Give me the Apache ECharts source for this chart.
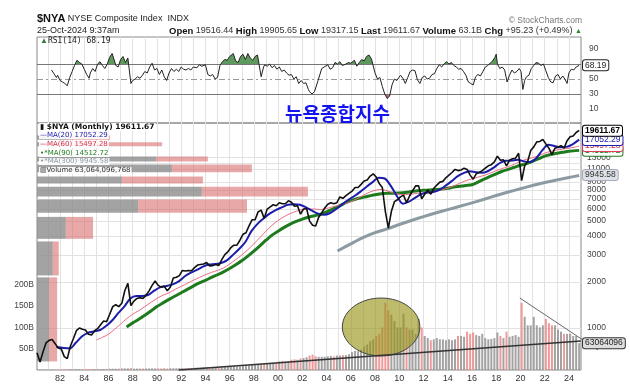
<!DOCTYPE html>
<html><head><meta charset="utf-8">
<script src="https://cdn.jsdelivr.net/npm/echarts@6/dist/echarts.min.js"></script>
<style>html,body{margin:0;padding:0;background:#fff}#c{width:630px;height:387px}</style>
</head><body><div id="c"></div>
<script>
// ---------- DATA ----------
const priceStart = 1980.1, priceStep = 0.25;   // quarterly samples, decimal years
const priceClose = [
 690,600,700,800, 830,840,790,740, 730,650,630,760, 850,960,1000,980, 970,910,900,960,
 990,1050,1110,1100, 1230,1380,1420,1380, 1450,1760,1960,1400, 1500,1560,1580,1560, 1640,1750,1900,2030,
 1900,1850,1880,1750, 1850,2120,2150,2200, 2380,2360,2380,2370, 2480,2580,2600,2620, 2680,2550,2560,2600,
 2560,2800,3020,3150, 3350,3480,3480,3750, 4100,4200,4650,5100, 5100,5750,5900,5200, 6000,6200,6400,6300,
 6600,6500,6500,6800, 6650,6250,6300,5550, 6000,6050,5000,4700, 4650,5300,5650,6100, 6450,6600,6500,6600,
 7200,7050,7350,7600, 7850,8300,8300,8700, 9150,9300,9850,10200, 9700,8800,8300,5800, 4500,5800,6700,6900,
 7200,7400,6600,7300, 7900,8500,8500,7000, 7500,8000,7500,8200, 8600,9000,9100,9600, 10000,10400,10900,10700,
 10800,11100,10900,10000, 9400,10200,10400,10700, 11100,11500,11700,12200, 13300,12500,12600,11500, 12500,12800,12900,13900,
 9200,11500,12300,14500, 15300,16500,16600,17100, 16000,15000,13600,15000, 15200,15600,15000,16800, 17800,18000,19000,19611.67
];
const volumeB = [
 1.0,1.1,1.1,1.3, 1.2,1.2,1.1,1.2, 1.2,1.3,1.6,2.0, 2.0,2.2,2.0,2.0, 2.0,2.0,2.2,2.0,
 2.2,2.2,2.3,2.6, 3.0,3.0,3.0,3.2, 3.8,3.8,3.8,4.5, 3.3,3.4,3.2,3.4, 3.5,3.6,3.9,3.8,
 3.8,3.7,3.8,3.5, 4.2,4.0,4.1,4.5, 4.8,4.6,4.5,4.8, 5.5,5.6,5.5,6.0, 6.0,6.0,6.0,6.0,
 6.5,6.8,7.0,7.2, 8.0,8.5,8.0,8.5, 10,10.5,11,12, 13,13,14,15, 16,16,17,17,
 20,21,20,21, 24,25,24,27, 28,30,34,36, 32,31,31,31, 32,33,32,34,
 34,35,35,37, 42,45,44,48, 55,60,68,72, 80,85,100,158, 140,130,115,100,
 100,132,100,95, 95,85,120,100, 80,75,70,72, 75,72,72,70, 72,70,72,80,
 80,78,90,85, 88,82,80,85, 75,72,73,75, 88,80,75,90, 78,80,82,78,
 158,125,105,105, 125,105,100,105, 120,110,105,105, 95,90,85,85, 85,80,80,63.06
];
const rsiPoints = [
 [1981.3,62],[1981.5,57],[1981.7,52],[1981.8,55],[1982.0,48],[1982.2,46],[1982.4,44],[1982.6,41],[1982.8,52],[1983.0,60],
 [1983.2,68],[1983.4,75],[1983.6,72],[1983.8,70],[1984.0,63],[1984.2,56],[1984.4,51],[1984.5,58],[1984.7,64],[1984.9,60],
 [1985.1,70],[1985.3,73],[1985.5,68],[1985.7,64],[1985.9,70],[1986.1,79],[1986.3,84],[1986.5,74],[1986.6,68],[1986.8,66],
 [1987.0,76],[1987.2,80],[1987.4,72],[1987.6,78],[1987.7,80],[1987.85,44],[1988.0,48],[1988.2,50],[1988.4,53],[1988.6,51],
 [1988.8,55],[1989.0,60],[1989.2,58],[1989.4,66],[1989.6,71],[1989.8,62],[1990.0,64],[1990.2,56],[1990.4,62],[1990.6,53],
 [1990.8,48],[1991.0,58],[1991.2,64],[1991.4,60],[1991.6,63],[1991.8,60],[1992.0,66],[1992.2,63],[1992.4,62],[1992.6,64],
 [1992.8,62],[1993.0,66],[1993.3,65],[1993.5,69],[1993.7,67],[1994.0,69],[1994.2,56],[1994.4,54],[1994.6,56],[1994.8,50],
 [1995.0,52],[1995.2,68],[1995.4,73],[1995.6,76],[1995.8,75],[1996.0,80],[1996.3,84],[1996.5,74],[1996.7,72],[1996.9,80],
 [1997.1,83],[1997.3,76],[1997.5,84],[1997.7,78],[1997.9,75],[1998.1,80],[1998.3,82],[1998.45,83],[1998.6,53],[1998.8,66],
 [1998.9,69],[1999.1,67],[1999.3,70],[1999.5,65],[1999.7,68],[1999.9,63],[2000.1,66],[2000.3,60],[2000.5,62],[2000.7,58],
 [2000.9,55],[2001.1,56],[2001.3,50],[2001.5,53],[2001.7,44],[2001.9,48],[2002.1,44],[2002.3,45],[2002.5,36],[2002.6,33],
 [2002.8,30],[2003.0,33],[2003.1,35],[2003.3,48],[2003.6,64],[2003.8,66],[2004.1,69],[2004.3,63],[2004.5,65],[2004.7,72],
 [2004.9,70],[2005.1,73],[2005.3,68],[2005.6,70],[2005.8,72],[2006.0,71],[2006.3,75],[2006.5,67],[2006.7,72],[2006.9,76],
 [2007.1,74],[2007.3,80],[2007.5,82],[2007.7,77],[2007.85,75],[2008.0,58],[2008.2,50],[2008.4,52],[2008.6,40],[2008.8,30],
 [2009.0,24],[2009.2,27],[2009.4,42],[2009.6,50],[2009.8,48],[2010.1,55],[2010.3,51],[2010.5,44],[2010.7,52],[2010.9,60],
 [2011.1,62],[2011.3,61],[2011.5,49],[2011.7,44],[2011.9,52],[2012.1,54],[2012.3,50],[2012.5,51],[2012.7,56],[2012.9,57],
 [2013.1,64],[2013.3,69],[2013.5,66],[2013.7,70],[2013.9,73],[2014.1,70],[2014.3,72],[2014.5,68],[2014.7,66],[2014.9,63],
 [2015.1,64],[2015.3,60],[2015.5,55],[2015.7,46],[2015.9,44],[2016.1,42],[2016.3,53],[2016.5,56],[2016.7,54],[2016.9,60],
 [2017.1,66],[2017.3,68],[2017.5,71],[2017.7,74],[2017.9,79],[2018.0,83],[2018.1,70],[2018.3,64],[2018.5,66],[2018.7,62],
 [2018.9,46],[2019.1,55],[2019.3,62],[2019.5,58],[2019.7,60],[2019.9,64],[2020.05,60],[2020.2,36],[2020.35,48],[2020.5,53],
 [2020.7,55],[2020.9,64],[2021.1,68],[2021.3,72],[2021.5,71],[2021.7,68],[2021.9,70],[2022.1,61],[2022.3,52],[2022.5,46],
 [2022.7,45],[2022.9,54],[2023.1,56],[2023.3,50],[2023.5,54],[2023.7,49],[2023.85,44],[2024.0,58],[2024.2,63],[2024.4,62],
 [2024.6,66],[2024.85,68.19]
];
const ma20 = [
 [1981.7,750],[1982.3,740],[1982.8,735],[1983.3,800],[1983.8,880],[1984.3,930],[1984.8,950],[1985.3,970],[1985.8,1030],
 [1986.3,1120],[1986.8,1250],[1987.3,1380],[1987.8,1560],[1988.3,1620],[1988.8,1620],[1989.3,1650],[1989.8,1760],
 [1990.3,1850],[1990.8,1880],[1991.3,1930],[1991.8,2020],[1992.3,2180],[1992.8,2300],[1993.3,2400],[1993.8,2520],
 [1994.3,2600],[1994.8,2620],[1995.3,2660],[1995.8,2780],[1996.3,3020],[1996.8,3300],[1997.3,3650],[1997.8,4300],
 [1998.3,4800],[1998.8,5200],[1999.3,5600],[1999.8,5900],[2000.3,6150],[2000.8,6400],[2001.3,6450],[2001.8,6400],
 [2002.3,6150],[2002.8,5850],[2003.3,5600],[2003.8,5500],[2004.3,5650],[2004.8,6000],[2005.3,6450],[2005.8,6900],
 [2006.3,7300],[2006.8,7800],[2007.3,8400],[2007.8,9000],[2008.3,9600],[2008.8,9500],[2009.3,8500],[2009.8,7300],
 [2010.3,6500],[2010.8,6700],[2011.3,7100],[2011.8,7500],[2012.3,7700],[2012.8,7750],[2013.3,8000],[2013.8,8500],
 [2014.3,9100],[2014.8,9800],[2015.3,10300],[2015.8,10600],[2016.3,10450],[2016.8,10350],[2017.3,10600],[2017.8,11200],
 [2018.3,12000],[2018.8,12400],[2019.3,12450],[2019.8,12600],[2020.3,12300],[2020.8,12200],[2021.3,12900],[2021.8,14500],
 [2022.3,15800],[2022.8,15500],[2023.3,15200],[2023.8,15300],[2024.3,15900],[2024.85,17052.29]
];
const ma60 = [
 [1985.0,835],[1985.5,870],[1986.0,910],[1986.5,980],[1987.0,1060],[1987.5,1150],[1988.0,1230],[1988.5,1300],[1989.0,1380],
 [1989.5,1470],[1990.0,1560],[1990.5,1640],[1991.0,1700],[1991.5,1790],[1992.0,1870],[1992.5,1960],[1993.0,2050],
 [1993.5,2140],[1994.0,2230],[1994.5,2310],[1995.0,2380],[1995.5,2470],[1996.0,2620],[1996.5,2800],[1997.0,3000],
 [1997.5,3250],[1998.0,3550],[1998.5,3900],[1999.0,4300],[1999.5,4700],[2000.0,5050],[2000.5,5350],[2001.0,5600],
 [2001.5,5800],[2002.0,5950],[2002.5,6000],[2003.0,6000],[2003.5,5950],[2004.0,6050],[2004.5,6200],[2005.0,6350],
 [2005.5,6500],[2006.0,6700],[2006.5,7000],[2007.0,7350],[2007.5,7700],[2008.0,7950],[2008.5,8050],[2009.0,7900],
 [2009.5,7650],[2010.0,7500],[2010.5,7450],[2011.0,7500],[2011.5,7600],[2012.0,7600],[2012.5,7650],[2013.0,7800],
 [2013.5,8000],[2014.0,8200],[2014.5,8500],[2015.0,8850],[2015.5,9200],[2016.0,9450],[2016.5,9700],[2017.0,9950],
 [2017.5,10300],[2018.0,10700],[2018.5,11050],[2019.0,11350],[2019.5,11800],[2020.0,12300],[2020.5,12700],[2021.0,13000],
 [2021.5,13400],[2022.0,13900],[2022.5,14300],[2023.0,14600],[2023.5,14800],[2024.0,15000],[2024.5,15250],[2024.85,15497.28]
];
const ma90 = [
 [1987.5,1015],[1988.0,1080],[1988.5,1140],[1989.0,1210],[1989.5,1290],[1990.0,1380],[1990.5,1460],[1991.0,1540],
 [1991.5,1620],[1992.0,1700],[1992.5,1790],[1993.0,1880],[1993.5,1970],[1994.0,2050],[1994.5,2140],[1995.0,2230],
 [1995.5,2330],[1996.0,2450],[1996.5,2590],[1997.0,2750],[1997.5,2950],[1998.0,3180],[1998.5,3450],[1999.0,3750],
 [1999.5,4050],[2000.0,4300],[2000.5,4550],[2001.0,4780],[2001.5,4980],[2002.0,5150],[2002.5,5300],[2003.0,5420],
 [2003.5,5550],[2004.0,5750],[2004.5,6000],[2005.0,6250],[2005.5,6550],[2006.0,6800],[2006.5,7000],[2007.0,7150],
 [2007.5,7300],[2008.0,7450],[2008.5,7550],[2009.0,7600],[2009.5,7620],[2010.0,7650],[2010.5,7700],[2011.0,7800],
 [2011.5,7900],[2012.0,7950],[2012.5,8000],[2013.0,8050],[2013.5,8100],[2014.0,8200],[2014.5,8350],[2015.0,8450],
 [2015.5,8550],[2016.0,8650],[2016.5,9000],[2017.0,9400],[2017.5,9800],[2018.0,10200],[2018.5,10600],[2019.0,10900],
 [2019.5,11250],[2020.0,11600],[2020.5,11900],[2021.0,12300],[2021.5,12800],[2022.0,13300],[2022.5,13650],[2023.0,13900],
 [2023.5,14100],[2024.0,14300],[2024.85,14512.72]
];
const ma300 = [
 [2004.9,3190],[2006.0,3550],[2007.0,3900],[2008.0,4200],[2009.0,4450],[2010.0,4750],[2011.0,5050],[2012.0,5350],
 [2013.0,5650],[2014.0,5950],[2015.0,6250],[2016.0,6580],[2017.0,6950],[2018.0,7350],[2019.0,7750],[2020.0,8150],
 [2021.0,8550],[2022.0,8950],[2023.0,9300],[2024.0,9650],[2024.85,9945.58]
];
// volume-by-price zones: [low price, high price, down-volume (gray) share, total share]
const vbpZones = [
 [16900,18300,6,13.4],[15300,16500,6,23.0],[12200,13350,21.9,31.4],[10350,11800,24.8,39.5],
 [8750,9870,15.6,30.5],[7190,8470,30.3,49.8],[5640,6970,18.6,38.6],[3800,5370,5.3,10.3],
 [2190,3710,2.9,4.0],[600,2160,2.2,3.7]
];
const priceTicks = [1000,2000,3000,4000,5000,6000,7000,8000,9000,11000,12000];
const priceTicksExtra = [13000];
const volumeTicks = [50,100,150,200];
const rsiTicks = [10,30,50,90];
const yearLabels = [1982,1984,1986,1988,1990,1992,1994,1996,1998,2000,2002,2004,2006,2008,2010,2012,2014,2016,2018,2020,2022,2024];
const last = {price:19611.67, ma20:17052.29, ma60:15497.28, ma90:14512.72, ma300:9945.58, rsi:68.19, vol:63.06};
// hand-drawn annotations on the volume overlay (data space)
const noteEllipse = {cx:2008.5, cy:101, hx:3.2, hy:68};
const noteLines = [[1991.8,0,2024.99,68,'#333',1.5],[2019.95,169,2026.4,47,'#666',1]];

// ---------- BUILD ----------
const L = v => Math.log10(v);
const priceData = priceClose.map((v,i)=>[priceStart+i*priceStep, L(v)]);
const volData = volumeB.map((v,i)=>{
  const up = i===0 || priceClose[i] >= priceClose[i-1];
  return {value:[priceStart+i*priceStep, v], itemStyle:{color: up ? 'rgba(140,140,140,0.8)' : 'rgba(232,120,120,0.75)'}};
});
const toLog = arr => arr.map(p=>[p[0], L(p[1])]);
const gridYears = []; for (let y=1981; y<=2024; y++) gridYears.push(y);
const FF = '"Liberation Sans", Arial, sans-serif';
const XMIN = 1980.1, XMAX = 2025.0;
const NOLINE = {color:'rgba(0,0,0,0)', width:1, type:'solid'};

function tag(text, border, bg, color, bold){
  return {show:true, position:'end', formatter:text, distance:2, fontSize:8.5, fontFamily:FF,
    fontWeight: bold?'bold':'normal', color:color, backgroundColor:bg, borderColor:border, borderWidth:1,
    padding:[1,2,0,2], borderRadius:2};
}
function tagLine(y, lab){ return {symbol:['none','none'], silent:true, animation:false,
  lineStyle:NOLINE, label:lab, data:[{yAxis:y, lineStyle:NOLINE, label:lab}]}; }

const chart = echarts.init(document.getElementById('c'), null, {renderer:'canvas'});
const option = {
  animation:false,
  grid:[
    {left:37, right:49, top:37, height:86, show:true, borderColor:'#8a8a8a', borderWidth:1},
    {left:37, right:49, top:123, height:247, show:true, borderColor:'#8a8a8a', borderWidth:1}
  ],
  xAxis:[
    {type:'value', gridIndex:0, min:XMIN, max:XMAX, axisLine:{show:false}, axisLabel:{show:false},
     axisTick:{show:false, customValues:gridYears}, splitLine:{show:true, lineStyle:{color:'#e2e2e2'}}},
    {type:'value', gridIndex:1, min:XMIN, max:XMAX, axisLine:{show:false},
     axisTick:{show:false, customValues:gridYears}, splitLine:{show:true, lineStyle:{color:'#e2e2e2'}},
     axisLabel:{customValues:yearLabels, formatter:v=>String(Math.round(v)%100).padStart(2,'0'),
       fontSize:9, fontFamily:FF, color:'#333', margin:4}},
    {type:'value', gridIndex:1, min:0, max:100, show:false}
  ],
  yAxis:[
    {type:'value', gridIndex:0, position:'right', min:-8.67, max:106, axisLine:{show:false},
     axisTick:{show:false, customValues:rsiTicks}, splitLine:{show:false},
     axisLabel:{customValues:rsiTicks, fontSize:8.5, fontFamily:FF, color:'#444', margin:8}},
    {type:'value', gridIndex:1, position:'right', min:2.7253, max:4.3408, axisLine:{show:false},
     axisTick:{show:false, customValues:priceTicks.map(L)}, splitLine:{show:true, lineStyle:{color:'#e2e2e2'}},
     axisLabel:{customValues:priceTicks.map(L), hideOverlap:false, formatter:v=>String(Math.round(Math.pow(10,v)/100)*100),
       fontSize:8.5, fontFamily:FF, color:'#444', margin:6}},
    {type:'value', gridIndex:1, position:'left', min:0, max:580, axisLine:{show:false}, splitLine:{show:false},
     axisTick:{show:false},
     axisLabel:{customValues:volumeTicks, formatter:v=>v+'B', fontSize:8.5, fontFamily:FF, color:'#444', margin:3}},
    {type:'value', gridIndex:1, position:'right', min:2.7253, max:4.3408, axisLine:{show:false},
     axisTick:{show:false, customValues:priceTicksExtra.map(L)}, splitLine:{show:true, lineStyle:{color:'#e2e2e2'}},
     axisLabel:{customValues:priceTicksExtra.map(L), formatter:v=>String(Math.round(Math.pow(10,v)/100)*100),
       fontSize:8.5, fontFamily:FF, color:'#444', margin:6}}
  ],
  visualMap:[
    {type:'piecewise', show:false, seriesIndex:1, dimension:1,
     pieces:[{gt:70, lte:120, color:'#5e9a5e'}], outOfRange:{color:'rgba(255,255,255,0)'}},
    {type:'piecewise', show:false, seriesIndex:2, dimension:1,
     pieces:[{gte:-20, lt:30, color:'#c86464'}], outOfRange:{color:'rgba(255,255,255,0)'}}
  ],
  series:[
    {type:'line', name:'RSI', xAxisIndex:0, yAxisIndex:0, data:rsiPoints, showSymbol:false, z:5, clip:false,
     lineStyle:{color:'#222', width:1},
     markLine:{symbol:['none','none'], silent:true, animation:false, label:{show:false},
       data:[
        {yAxis:70, lineStyle:{color:'#777', width:1, type:'solid'}},
        {yAxis:30, lineStyle:{color:'#777', width:1, type:'solid'}},
        {yAxis:50, lineStyle:{color:'#999', width:1, type:[6,3,2,3]}},
        {yAxis:last.rsi, lineStyle:NOLINE, label:tag(String(last.rsi),'#222','#fff','#222',false)}
       ]}},
    {type:'line', name:'RSIup', xAxisIndex:0, yAxisIndex:0, data:rsiPoints, showSymbol:false, z:3,
     lineStyle:{width:0}, areaStyle:{origin:70, opacity:1}},
    {type:'line', name:'RSIdn', xAxisIndex:0, yAxisIndex:0, data:rsiPoints, showSymbol:false, z:3,
     lineStyle:{width:0}, areaStyle:{origin:30, opacity:1}},
    {type:'custom', name:'VBP', xAxisIndex:2, yAxisIndex:1, z:1, data:vbpZones, silent:true,
     renderItem:(params, api)=>{
       const lo=api.value(0), hi=api.value(1), g=api.value(2), t=api.value(3);
       const a=api.coord([0, L(hi)]), b=api.coord([g, L(lo)]), c=api.coord([t, L(lo)]);
       const h=b[1]-a[1]-1;
       return {type:'group', children:[
         {type:'rect', shape:{x:a[0], y:a[1]+0.5, width:b[0]-a[0], height:h}, style:{fill:'rgba(140,140,140,0.8)'}},
         {type:'rect', shape:{x:b[0], y:a[1]+0.5, width:c[0]-b[0], height:h}, style:{fill:'rgba(218,110,110,0.6)'}}
       ]};
     }},
    {type:'bar', name:'Volume', xAxisIndex:1, yAxisIndex:2, data:volData, barWidth:2, z:2, silent:true, clip:false,
     markLine:tagLine(last.vol, tag('63064096','#333','#ddd','#222',false))},
    {type:'custom', name:'note', xAxisIndex:1, yAxisIndex:2, z:3, silent:true, data:[[noteEllipse.cx, noteEllipse.cy]],
     renderItem:(params, api)=>{
       const c=api.coord([noteEllipse.cx, noteEllipse.cy]);
       const e=api.coord([noteEllipse.cx+noteEllipse.hx, noteEllipse.cy+noteEllipse.hy]);
       return {type:'ellipse', shape:{cx:c[0], cy:c[1], rx:e[0]-c[0], ry:c[1]-e[1]},
         style:{fill:'rgba(150,145,20,0.62)', stroke:'#444', lineWidth:1}};
     }},
    {type:'custom', name:'trend', xAxisIndex:1, yAxisIndex:2, z:4, silent:true, clip:false, data:noteLines,
     renderItem:(params, api)=>{
       const d=noteLines[params.dataIndex];
       const p=api.coord([d[0],d[1]]), q=api.coord([d[2],d[3]]);
       return {type:'line', shape:{x1:p[0], y1:p[1], x2:q[0], y2:q[1]}, style:{stroke:d[4], lineWidth:d[5]}};
     }},
    {type:'line', name:'MA300', xAxisIndex:1, yAxisIndex:1, data:toLog(ma300), showSymbol:false, smooth:0.3, z:5, clip:false,
     lineStyle:{color:'#8c9ba2', width:3},
     markLine:tagLine(L(last.ma300), tag(String(last.ma300),'#aab','#dde2e6','#333',false))},
    {type:'line', name:'MA90', xAxisIndex:1, yAxisIndex:1, data:toLog(ma90), showSymbol:false, smooth:0.3, z:6, clip:false,
     lineStyle:{color:'#1d7a1d', width:3},
     markLine:tagLine(L(last.ma90), tag(String(last.ma90),'#1d7a1d','#fff','#1d7a1d',false))},
    {type:'line', name:'MA60', xAxisIndex:1, yAxisIndex:1, data:toLog(ma60), showSymbol:false, smooth:0.3, z:7, clip:false,
     lineStyle:{color:'#ea6a80', width:1},
     markLine:tagLine(L(last.ma60), tag(String(last.ma60),'#e0405a','#fff','#c03048',false))},
    {type:'line', name:'MA20', xAxisIndex:1, yAxisIndex:1, data:toLog(ma20), showSymbol:false, smooth:0.3, z:8, clip:false,
     lineStyle:{color:'#1c1caa', width:2},
     markLine:tagLine(L(last.ma20), tag(String(last.ma20),'#2020b0','#fff','#2020b0',false))},
    {type:'line', name:'Price', xAxisIndex:1, yAxisIndex:1, data:priceData, showSymbol:false, z:9, clip:false,
     lineStyle:{color:'#111', width:1.6},
     markLine:tagLine(L(last.price), tag(String(last.price),'#000','#fff','#000',true))}
  ],
  graphic:[
    {type:'text', left:37, top:13, z:20, style:{text:'{b|$NYA} NYSE Composite Index  INDX', fontSize:9, fontFamily:FF, fill:'#222',
      rich:{b:{fontSize:11, fontWeight:'bold', fontFamily:FF, fill:'#111'}}}},
    {type:'text', right:48, top:16, z:20, style:{text:'© StockCharts.com', fontSize:8.5, fontFamily:FF, fill:'#777'}},
    {type:'text', left:37, top:26, z:20, style:{text:'25-Oct-2024 9:37am', fontSize:9, fontFamily:FF, fill:'#222'}},
    {type:'text', right:48, top:26, z:20, style:{
      text:'{b|Open} 19516.44 {b|High} 19905.65 {b|Low} 19317.15 {b|Last} 19611.67 {b|Volume} 63.1B {b|Chg} +95.23 (+0.49%) {g|▲}',
      fontSize:9, fontFamily:FF, fill:'#333',
      rich:{b:{fontSize:9.5, fontWeight:'bold', fontFamily:FF, fill:'#111'}, g:{fontSize:7, fill:'#2a8a2a'}}}},
    {type:'text', left:40, top:37, z:20, style:{text:'{g|▲}RSI(14) 68.19', fontSize:8, fontFamily:'"DejaVu Sans Mono", monospace', fill:'#222',
      rich:{g:{fontSize:8, fill:'#3a7a3a'}}}},
    {type:'text', left:285, top:104, z:20, style:{text:'뉴욕종합지수', fontSize:19, fontWeight:'bold',
      fontFamily:'"Noto Sans CJK KR", sans-serif', fill:'#1414f0'}},
    {type:'text', left:39, top:123, z:20, style:{text:'▮ $NYA (Monthly) 19611.67', fontSize:7.5, fontWeight:'bold',
      fontFamily:'"DejaVu Sans", sans-serif', fill:'#111', backgroundColor:'rgba(255,255,255,0.9)', padding:[0,1]}},
    {type:'text', left:39, top:132, z:20, style:{text:'—MA(20) 17052.29', fontSize:7, fontFamily:'"DejaVu Sans", sans-serif',
      fill:'#2020b0', backgroundColor:'rgba(255,255,255,0.9)', padding:[0,1]}},
    {type:'text', left:39, top:141, z:20, style:{text:'—MA(60) 15497.28', fontSize:7, fontFamily:'"DejaVu Sans", sans-serif',
      fill:'#d8304c', backgroundColor:'rgba(255,255,255,0.9)', padding:[0,1]}},
    {type:'text', left:39, top:150, z:20, style:{text:'•*MA(90) 14512.72', fontSize:7, fontFamily:'"DejaVu Sans", sans-serif',
      fill:'#1d7a1d', backgroundColor:'rgba(255,255,255,0.9)', padding:[0,1]}},
    {type:'text', left:39, top:158, z:20, style:{text:'•*MA(300) 9945.58', fontSize:7, fontFamily:'"DejaVu Sans", sans-serif',
      fill:'#8c9ba2', backgroundColor:'rgba(255,255,255,0.9)', padding:[0,1]}},
    {type:'text', left:39, top:167, z:20, style:{text:'▥Volume 63,064,096,768', fontSize:7, fontFamily:'"DejaVu Sans", sans-serif',
      fill:'#333', backgroundColor:'rgba(255,255,255,0.9)', padding:[0,1]}}
  ]
};
chart.setOption(option);
</script></body></html>
